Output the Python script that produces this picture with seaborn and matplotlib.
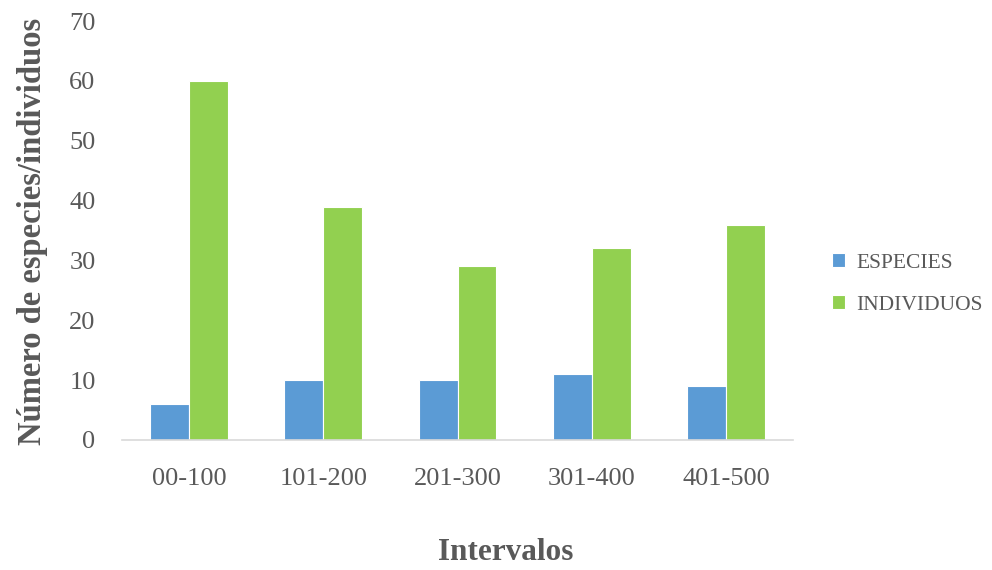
import matplotlib
matplotlib.use("Agg")
import matplotlib.pyplot as plt
import seaborn as sns
import pandas as pd

# Data: number of species and individuals per interval
intervalos = ["00-100", "101-200", "201-300", "301-400", "401-500"]
especies = [6, 10, 10, 11, 9]
individuos = [60, 39, 29, 32, 36]
series = ["ESPECIES", "INDIVIDUOS"]
colores = ["#5B9BD5", "#92D050"]
y_ticks = [0, 10, 20, 30, 40, 50, 60, 70]

df = pd.DataFrame({
    "Intervalo": intervalos * 2,
    "Serie": [series[0]] * len(intervalos) + [series[1]] * len(intervalos),
    "Valor": especies + individuos,
})

sns.set_theme(style="white")
plt.rcParams["font.family"] = ["Liberation Serif", "DejaVu Serif"]
text_color = "#595959"

fig = plt.figure(figsize=(9.92, 5.70), dpi=100)
ax = fig.add_axes([122 / 992, 1 - 440 / 570, (793 - 122) / 992, (440 - 21) / 570])

sns.barplot(data=df, x="Intervalo", y="Valor", hue="Serie", order=intervalos,
            hue_order=series, palette=colores, width=0.58, edgecolor="white",
            linewidth=0.8, saturation=1, ax=ax)

ax.set_ylim(0, 70)
ax.set_yticks(y_ticks)
ax.set_yticklabels([str(v) for v in y_ticks])
ax.set_xlim(-0.5, len(intervalos) - 0.5)
ax.set_xlabel("")
ax.set_ylabel("")

for side in ["top", "right", "left"]:
    ax.spines[side].set_visible(False)
ax.spines["bottom"].set_color("#D9D9D9")
ax.spines["bottom"].set_linewidth(1.2)

ax.tick_params(axis="y", length=0, pad=19, labelsize=19, labelcolor=text_color)
ax.tick_params(axis="x", length=0, pad=20, labelsize=19, labelcolor=text_color)

# Axis titles
fig.text(506 / 992, 1 - 553 / 570, "Intervalos", ha="center", va="center",
         fontsize=22.5, fontweight="bold", color=text_color)
fig.text(33 / 992, 1 - 231 / 570, "Número de especies/individuos", ha="center",
         va="center", rotation=90, fontsize=23.5, fontweight="bold", color=text_color)

# Legend at the right
handles, labels = ax.get_legend_handles_labels()
ax.get_legend().remove()
fig.legend(handles, labels, loc="center left", bbox_to_anchor=(832 / 992, 1 - 284 / 570),
           frameon=False, fontsize=15.5, labelcolor=text_color, borderpad=0,
           borderaxespad=0, handlelength=0.62, handleheight=0.62,
           handletextpad=0.5, labelspacing=1.05)

fig.savefig("out.png", dpi=100, facecolor="white")
